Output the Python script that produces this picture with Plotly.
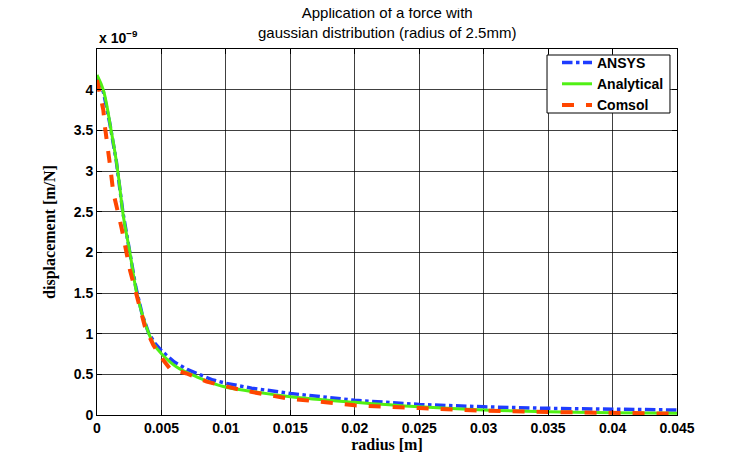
import plotly.graph_objects as go

# radius [m]
x_ansys = [0, 0.0005, 0.001, 0.0015, 0.002, 0.0025, 0.003, 0.0035, 0.004, 0.0045, 0.005, 0.0055,
           0.006, 0.007, 0.008, 0.009, 0.010, 0.012, 0.015, 0.020, 0.025, 0.030, 0.035, 0.040, 0.045]
y_ansys = [4.15, 3.97, 3.58, 3.12, 2.50, 2.03, 1.58, 1.24, 1.01, 0.88, 0.79, 0.72,
           0.65, 0.56, 0.49, 0.43, 0.39, 0.33, 0.265, 0.18, 0.13, 0.10, 0.082, 0.07, 0.061]

x_analytical = [0, 0.0005, 0.00114, 0.0014, 0.00166, 0.00204, 0.00256, 0.00308, 0.00372, 0.00437,
                0.00502, 0.00618, 0.00773, 0.0098, 0.012, 0.015, 0.020, 0.025, 0.030, 0.035, 0.040, 0.045]
y_analytical = [4.18, 3.99, 3.46, 3.22, 2.94, 2.45, 1.99, 1.50, 1.13, 0.88,
                0.75, 0.59, 0.47, 0.35, 0.29, 0.225, 0.156, 0.10, 0.061, 0.04, 0.028, 0.02]

x_comsol = [0, 0.00023, 0.00049, 0.00062, 0.00088, 0.00106, 0.00126, 0.00192, 0.00256, 0.00308,
            0.00372, 0.00437, 0.00502, 0.00566, 0.00696, 0.00851, 0.0111, 0.0147, 0.020, 0.025,
            0.030, 0.035, 0.040, 0.045]
y_comsol = [4.12, 3.97, 3.75, 3.54, 3.26, 3.01, 2.74, 2.29, 1.78, 1.45,
            1.085, 0.86, 0.70, 0.57, 0.51, 0.41, 0.31, 0.205, 0.119, 0.086,
            0.053, 0.037, 0.025, 0.016]

x_ticks = [0, 0.005, 0.01, 0.015, 0.02, 0.025, 0.03, 0.035, 0.04, 0.045]
x_tick_labels = ["0", "0.005", "0.01", "0.015", "0.02", "0.025", "0.03", "0.035", "0.04", "0.045"]
y_ticks = [0, 0.5, 1, 1.5, 2, 2.5, 3, 3.5, 4]
y_tick_labels = ["0", "0.5", "1", "1.5", "2", "2.5", "3", "3.5", "4"]

title_text = "Application of a force with<br>gaussian distribution (radius of 2.5mm)"

fig = go.Figure()
fig.add_trace(go.Scatter(x=x_ansys, y=y_ansys, mode="lines", name="ANSYS",
                         line=dict(color="rgb(30,60,255)", width=3.5, dash="dashdot")))
fig.add_trace(go.Scatter(x=x_analytical, y=y_analytical, mode="lines", name="Analytical",
                         line=dict(color="rgb(80,240,20)", width=3, shape="spline")))
fig.add_trace(go.Scatter(x=x_comsol, y=y_comsol, mode="lines", name="Comsol",
                         line=dict(color="rgb(255,70,0)", width=4, dash="dash")))

sans = "Liberation Sans, Arial, sans-serif"
tickfont = dict(family=sans, size=14, color="black", weight="bold")
labfont = dict(family="Liberation Serif, Times New Roman, serif", size=16, color="black")

fig.update_layout(
    width=739, height=460,
    margin=dict(l=89, r=70, t=41, b=53),
    paper_bgcolor="white", plot_bgcolor="white",
    showlegend=True,
    legend=dict(x=0.7931, y=0.9044, xanchor="left", yanchor="middle",
                bgcolor="rgba(0,0,0,0)", borderwidth=0,
                font=dict(family=sans, size=14, color="black", weight="bold"),
                tracegroupgap=0, itemwidth=30),
    xaxis=dict(range=[0, 0.045], tickvals=x_ticks, ticktext=x_tick_labels,
               showgrid=True, gridcolor="rgba(0,0,0,0.75)", gridwidth=1,
               showline=True, linecolor="black", linewidth=1, mirror="ticks",
               ticks="inside", ticklen=5, tickcolor="black",
               tickfont=tickfont, zeroline=False,
               title=dict(text="<b>radius [m]</b>", font=labfont, standoff=2)),
    yaxis=dict(range=[0, 4.5], tickvals=y_ticks, ticktext=y_tick_labels,
               showgrid=True, gridcolor="rgba(0,0,0,0.75)", gridwidth=1,
               showline=True, linecolor="black", linewidth=1, mirror="ticks",
               ticks="inside", ticklen=5, tickcolor="black",
               tickfont=tickfont, zeroline=False,
               title=dict(text="<b>displacement [m/N]</b>", font=labfont, standoff=14)),
)

# legend frame
fig.add_shape(type="rect", xref="paper", yref="paper", x0=0.7759, x1=0.9879, y0=0.8251, y1=0.9836,
              fillcolor="white", line=dict(color="black", width=1), layer="above")

fig.add_annotation(text=title_text, xref="paper", yref="paper", x=0.5, y=1,
                   xanchor="center", yanchor="bottom", showarrow=False, yshift=6,
                   font=dict(family=sans, size=15, color="black"))

fig.add_annotation(text="<b>x 10<sup>−9</sup></b>", xref="paper", yref="paper",
                   x=0, y=1, xanchor="left", yanchor="bottom", showarrow=False,
                   font=dict(family=sans, size=14, color="black"), yshift=1)

fig.write_html("out.html")
